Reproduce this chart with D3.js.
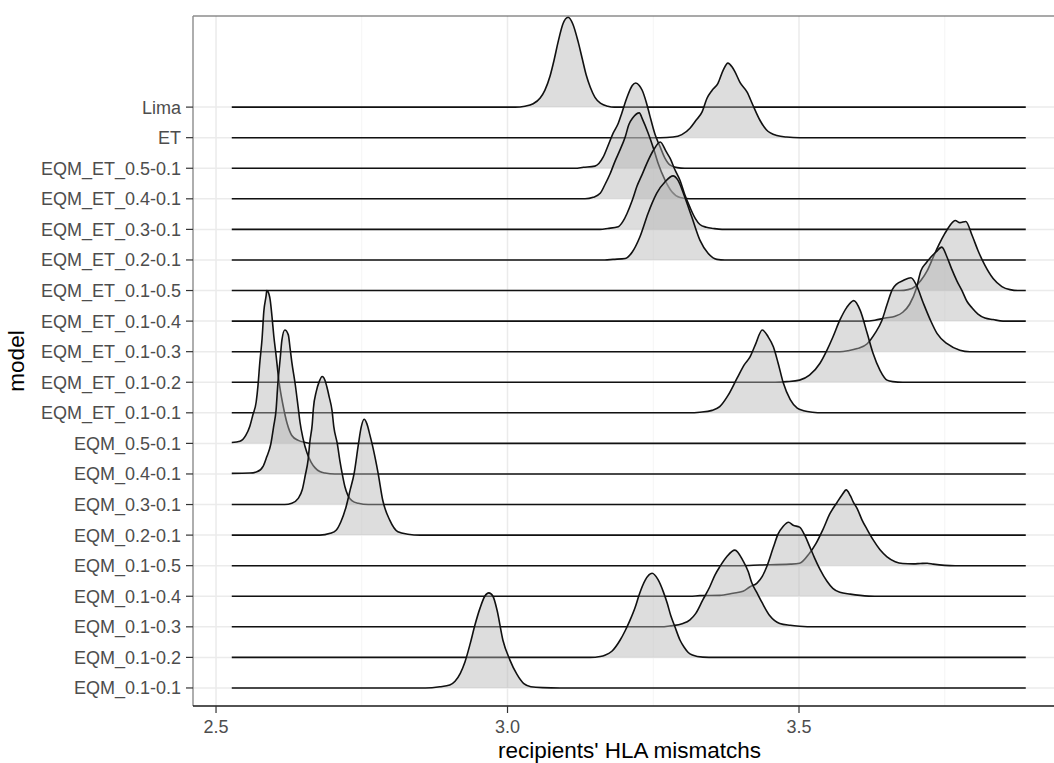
<!DOCTYPE html>
<html>
<head>
<meta charset="utf-8">
<script src="https://cdn.jsdelivr.net/npm/d3@7"></script>
<style>
  body { margin: 0; background: #ffffff; }
  svg text { font-family: "Liberation Sans", Arial, sans-serif; }
</style>
</head>
<body>
<svg id="chart" width="1054" height="763"></svg>
<script>
// Models, listed from the bottom ridge to the top ridge
const models = [
  "EQM_0.1-0.1", "EQM_0.1-0.2", "EQM_0.1-0.3", "EQM_0.1-0.4", "EQM_0.1-0.5",
  "EQM_0.2-0.1", "EQM_0.3-0.1", "EQM_0.4-0.1", "EQM_0.5-0.1",
  "EQM_ET_0.1-0.1", "EQM_ET_0.1-0.2", "EQM_ET_0.1-0.3", "EQM_ET_0.1-0.4", "EQM_ET_0.1-0.5",
  "EQM_ET_0.2-0.1", "EQM_ET_0.3-0.1", "EQM_ET_0.4-0.1", "EQM_ET_0.5-0.1",
  "ET", "Lima"
];

const xTicks = [2.5, 3.0, 3.5, 4.0];
const xMinorTicks = [2.75, 3.25, 3.75];
// common grid over which every density is evaluated
const densityRange = [2.527, 3.889];

// Scaled densities: [HLA mismatches, ridge height in row units]
const eqm_01_01 = [[2.859,0],[2.884,0.04],[2.901,0.10],[2.910,0.22],[2.919,0.48],[2.927,0.85],[2.936,1.45],[2.944,2.05],[2.953,2.62],[2.961,3.00],[2.968,3.11],[2.975,3.00],[2.982,2.55],[2.992,1.57],[3.004,0.92],[3.016,0.45],[3.028,0.14],[3.040,0.04],[3.060,0.01],[3.090,0]];
const eqm_01_02 = [[3.142,0],[3.159,0.03],[3.167,0.07],[3.179,0.20],[3.193,0.56],[3.202,0.88],[3.210,1.21],[3.219,1.64],[3.226,2.06],[3.236,2.52],[3.248,2.75],[3.258,2.55],[3.267,2.16],[3.274,1.77],[3.280,1.37],[3.287,1.01],[3.296,0.56],[3.303,0.33],[3.310,0.16],[3.317,0.08],[3.335,0.01],[3.356,0]];
const eqm_01_03 = [[3.262,0],[3.279,0.03],[3.301,0.11],[3.313,0.23],[3.323,0.44],[3.335,0.88],[3.347,1.31],[3.356,1.70],[3.364,1.96],[3.376,2.29],[3.390,2.51],[3.404,2.16],[3.413,1.80],[3.419,1.44],[3.428,1.11],[3.437,0.78],[3.450,0.36],[3.467,0.11],[3.485,0.05],[3.501,0.02],[3.527,0]];
const eqm_01_04 = [[3.313,0],[3.330,0.02],[3.364,0.03],[3.387,0.10],[3.404,0.16],[3.416,0.31],[3.428,0.43],[3.437,0.65],[3.445,0.98],[3.456,1.60],[3.464,2.03],[3.473,2.29],[3.482,2.42],[3.490,2.32],[3.501,2.26],[3.510,1.99],[3.518,1.64],[3.527,1.24],[3.536,0.88],[3.548,0.49],[3.558,0.26],[3.570,0.13],[3.588,0.07],[3.605,0.03],[3.630,0]];
const eqm_01_05 = [[3.399,0],[3.433,0.02],[3.485,0.05],[3.501,0.08],[3.518,0.41],[3.529,0.72],[3.541,1.18],[3.553,1.70],[3.565,2.06],[3.574,2.32],[3.581,2.48],[3.588,2.29],[3.593,2.09],[3.600,1.86],[3.608,1.50],[3.617,1.18],[3.627,0.85],[3.639,0.52],[3.651,0.29],[3.665,0.13],[3.678,0.07],[3.696,0.06],[3.708,0.07],[3.720,0.08],[3.730,0.05],[3.750,0.01],[3.768,0]];
const eqm_02_01 = [[2.678,0],[2.696,0.06],[2.706,0.16],[2.714,0.43],[2.723,0.92],[2.730,1.47],[2.737,2.03],[2.744,2.94],[2.749,3.53],[2.754,3.79],[2.759,3.63],[2.764,3.27],[2.769,2.88],[2.778,2.03],[2.786,1.14],[2.798,0.49],[2.812,0.11],[2.829,0.03],[2.850,0]];
const eqm_03_01 = [[2.618,0],[2.630,0.04],[2.641,0.20],[2.648,0.49],[2.653,0.95],[2.658,1.47],[2.661,2.06],[2.665,2.62],[2.667,3.14],[2.672,3.70],[2.677,4.02],[2.682,4.19],[2.687,4.06],[2.690,3.86],[2.694,3.53],[2.699,3.07],[2.702,2.55],[2.708,1.99],[2.713,1.37],[2.716,1.05],[2.721,0.59],[2.726,0.31],[2.733,0.13],[2.744,0.04],[2.761,0]];
const eqm_04_01 = [[2.527,0.02],[2.558,0.03],[2.570,0.07],[2.581,0.26],[2.587,0.56],[2.594,0.98],[2.599,1.57],[2.603,2.09],[2.606,2.94],[2.610,3.76],[2.613,4.38],[2.618,4.71],[2.624,4.55],[2.627,4.12],[2.630,3.66],[2.636,2.91],[2.641,2.16],[2.644,1.70],[2.649,1.18],[2.656,0.69],[2.663,0.39],[2.670,0.20],[2.678,0.08],[2.687,0.03],[2.704,0]];
const eqm_05_01 = [[2.527,0.03],[2.541,0.07],[2.551,0.26],[2.558,0.56],[2.563,0.92],[2.569,1.37],[2.572,1.90],[2.575,2.62],[2.579,3.43],[2.582,4.32],[2.586,4.84],[2.587,5.00],[2.589,4.97],[2.593,4.68],[2.596,4.15],[2.599,3.53],[2.603,2.88],[2.608,2.03],[2.615,1.24],[2.622,0.65],[2.630,0.26],[2.641,0.10],[2.653,0.03],[2.665,0]];
const et_01_01 = [[3.313,0],[3.330,0.02],[3.351,0.08],[3.364,0.20],[3.378,0.56],[3.394,1.14],[3.406,1.57],[3.416,1.83],[3.425,2.22],[3.437,2.71],[3.447,2.49],[3.456,2.16],[3.464,1.64],[3.473,0.98],[3.485,0.43],[3.497,0.15],[3.508,0.07],[3.523,0.02],[3.541,0]];
const et_01_02 = [[3.459,0],[3.479,0.02],[3.501,0.07],[3.518,0.23],[3.536,0.62],[3.548,1.05],[3.558,1.47],[3.570,2.03],[3.582,2.45],[3.594,2.67],[3.605,2.35],[3.617,1.60],[3.627,0.95],[3.639,0.39],[3.651,0.07],[3.661,0.02],[3.678,0]];
const et_01_03 = [[3.570,0],[3.584,0.03],[3.600,0.10],[3.617,0.26],[3.630,0.59],[3.642,1.01],[3.651,1.54],[3.660,2.03],[3.668,2.22],[3.678,2.32],[3.692,2.42],[3.701,2.19],[3.713,1.60],[3.725,1.05],[3.737,0.59],[3.754,0.26],[3.776,0.05],[3.793,0]];
const et_01_04 = [[3.613,0],[3.630,0.03],[3.648,0.10],[3.665,0.16],[3.678,0.29],[3.690,0.56],[3.701,1.05],[3.709,1.64],[3.718,1.90],[3.726,2.09],[3.735,2.26],[3.745,2.42],[3.754,2.09],[3.762,1.70],[3.771,1.31],[3.780,0.98],[3.788,0.65],[3.797,0.43],[3.807,0.23],[3.819,0.10],[3.833,0.05],[3.850,0]];
const et_01_05 = [[3.673,0],[3.687,0.03],[3.699,0.13],[3.709,0.33],[3.720,0.65],[3.730,1.08],[3.740,1.50],[3.750,1.86],[3.759,2.13],[3.768,2.29],[3.776,2.22],[3.786,2.26],[3.797,1.80],[3.807,1.31],[3.819,0.82],[3.833,0.39],[3.848,0.13],[3.862,0.03],[3.876,0]];
const et_02_01 = [[3.167,0],[3.181,0.02],[3.202,0.05],[3.214,0.26],[3.227,0.75],[3.241,1.52],[3.248,1.86],[3.256,2.19],[3.270,2.55],[3.284,2.75],[3.292,2.62],[3.304,2.06],[3.316,1.41],[3.330,0.65],[3.344,0.22],[3.359,0.02],[3.373,0]];
const et_03_01 = [[3.159,0],[3.172,0.03],[3.190,0.09],[3.198,0.26],[3.205,0.52],[3.214,0.95],[3.222,1.41],[3.231,1.80],[3.239,2.16],[3.250,2.58],[3.262,2.86],[3.272,2.55],[3.279,2.32],[3.287,1.96],[3.296,1.60],[3.304,1.14],[3.313,0.72],[3.322,0.36],[3.330,0.16],[3.341,0.07],[3.353,0.03],[3.368,0]];
const et_04_01 = [[3.133,0],[3.147,0.05],[3.159,0.18],[3.167,0.46],[3.176,0.82],[3.184,1.21],[3.193,1.60],[3.202,2.03],[3.208,2.42],[3.215,2.65],[3.226,2.81],[3.232,2.58],[3.241,2.16],[3.250,1.67],[3.258,1.18],[3.270,0.62],[3.282,0.23],[3.296,0.04],[3.313,0]];
const et_05_01 = [[3.116,0],[3.130,0.03],[3.150,0.07],[3.164,0.36],[3.172,0.72],[3.181,1.14],[3.190,1.47],[3.196,1.80],[3.205,2.32],[3.214,2.71],[3.220,2.79],[3.226,2.71],[3.231,2.55],[3.238,2.16],[3.244,1.73],[3.253,1.11],[3.262,0.69],[3.270,0.33],[3.279,0.10],[3.291,0.02],[3.304,0]];
const et_only = [[3.262,0],[3.284,0.02],[3.299,0.10],[3.313,0.31],[3.323,0.56],[3.334,0.85],[3.342,1.28],[3.351,1.55],[3.361,1.78],[3.370,2.21],[3.378,2.44],[3.385,2.32],[3.390,2.16],[3.399,1.80],[3.411,1.49],[3.421,1.06],[3.433,0.57],[3.444,0.26],[3.462,0.07],[3.479,0.02],[3.501,0]];
const lima = [[3.013,0],[3.030,0.03],[3.044,0.11],[3.056,0.30],[3.064,0.55],[3.073,1.02],[3.080,1.55],[3.087,2.15],[3.095,2.72],[3.104,2.94],[3.112,2.72],[3.121,2.15],[3.128,1.60],[3.135,1.05],[3.142,0.65],[3.150,0.32],[3.160,0.12],[3.172,0.03],[3.183,0]];

const ridges = [
  eqm_01_01, eqm_01_02, eqm_01_03, eqm_01_04, eqm_01_05,
  eqm_02_01, eqm_03_01, eqm_04_01, eqm_05_01,
  et_01_01, et_01_02, et_01_03, et_01_04, et_01_05,
  et_02_01, et_03_01, et_04_01, et_05_01,
  et_only, lima
];

// ---- layout ----
const svg = d3.select("#chart");
const panel = { left: 193, top: 16, right: 1066, bottom: 706 };

const x = d3.scaleLinear().domain([2.4605, 3.958]).range([panel.left, panel.right]);
const y = d3.scaleLinear().domain([-0.59, 21.98]).range([panel.bottom, panel.top]);

svg.append("rect").attr("width", 1054).attr("height", 763).attr("fill", "#ffffff");

// grid
const grid = svg.append("g");
grid.selectAll("line.minor").data(xMinorTicks).join("line")
  .attr("x1", d => x(d)).attr("x2", d => x(d))
  .attr("y1", panel.top).attr("y2", panel.bottom)
  .attr("stroke", "#f2f2f2").attr("stroke-width", 0.8);
grid.selectAll("line.majorx").data(xTicks).join("line")
  .attr("x1", d => x(d)).attr("x2", d => x(d))
  .attr("y1", panel.top).attr("y2", panel.bottom)
  .attr("stroke", "#ebebeb").attr("stroke-width", 1.5);
grid.selectAll("line.majory").data(models).join("line")
  .attr("x1", panel.left).attr("x2", panel.right)
  .attr("y1", (d, i) => y(i)).attr("y2", (d, i) => y(i))
  .attr("stroke", "#ebebeb").attr("stroke-width", 1.5);

// ridges: top ridge first so lower ridges overlay upper ones
const area = d3.area().curve(d3.curveMonotoneX);
const line = d3.line().curve(d3.curveMonotoneX);
const ridgeLayer = svg.append("g");

for (let i = models.length - 1; i >= 0; i--) {
  const pts = ridges[i].slice();
  if (pts[0][0] > densityRange[0]) pts.unshift([densityRange[0], 0]);
  if (pts[pts.length - 1][0] < densityRange[1]) pts.push([densityRange[1], 0]);

  area.x(d => x(d[0])).y0(y(i)).y1(d => y(i + d[1]));
  line.x(d => x(d[0])).y(d => y(i + d[1]));

  ridgeLayer.append("path")
    .attr("d", area(pts))
    .attr("fill", "#b3b3b3")
    .attr("fill-opacity", 0.45)
    .attr("stroke", "none");
  ridgeLayer.append("path")
    .attr("d", line(pts))
    .attr("fill", "none")
    .attr("stroke", "#111111")
    .attr("stroke-width", 1.6)
    .attr("stroke-linejoin", "round");
}

// panel border
svg.append("line").attr("x1", panel.left).attr("x2", panel.right)
  .attr("y1", panel.top).attr("y2", panel.top)
  .attr("stroke", "#555555").attr("stroke-width", 1.2);
svg.append("line").attr("x1", panel.left).attr("x2", panel.left)
  .attr("y1", panel.top).attr("y2", panel.bottom)
  .attr("stroke", "#8c8c8c").attr("stroke-width", 1.4);
svg.append("line").attr("x1", panel.left).attr("x2", panel.right)
  .attr("y1", panel.bottom).attr("y2", panel.bottom)
  .attr("stroke", "#1a1a1a").attr("stroke-width", 1.6);

// y axis
const yAxis = svg.append("g");
yAxis.selectAll("line").data(models).join("line")
  .attr("x1", panel.left - 7).attr("x2", panel.left)
  .attr("y1", (d, i) => y(i)).attr("y2", (d, i) => y(i))
  .attr("stroke", "#333333").attr("stroke-width", 1.2);
yAxis.selectAll("text").data(models).join("text")
  .attr("x", panel.left - 12)
  .attr("y", (d, i) => y(i))
  .attr("dy", "0.36em")
  .attr("text-anchor", "end")
  .attr("font-size", 18)
  .attr("fill", "#4d4d4d")
  .text(d => d);

// x axis
const xAxis = svg.append("g");
const shownTicks = xTicks.filter(t => x(t) <= 1054);
xAxis.selectAll("line").data(shownTicks).join("line")
  .attr("x1", d => x(d)).attr("x2", d => x(d))
  .attr("y1", panel.bottom).attr("y2", panel.bottom + 7)
  .attr("stroke", "#333333").attr("stroke-width", 1.2);
xAxis.selectAll("text").data(shownTicks).join("text")
  .attr("x", d => x(d))
  .attr("y", 733)
  .attr("text-anchor", "middle")
  .attr("font-size", 18)
  .attr("fill", "#4d4d4d")
  .text(d => d3.format(".1f")(d));

// axis titles
svg.append("text")
  .attr("x", (panel.left + panel.right) / 2)
  .attr("y", 758)
  .attr("text-anchor", "middle")
  .attr("font-size", 22.5)
  .attr("fill", "#000000")
  .text("recipients' HLA mismatchs");

svg.append("text")
  .attr("transform", `translate(24, ${(panel.top + panel.bottom) / 2}) rotate(-90)`)
  .attr("text-anchor", "middle")
  .attr("font-size", 22.5)
  .attr("fill", "#000000")
  .text("model");
</script>
</body>
</html>
